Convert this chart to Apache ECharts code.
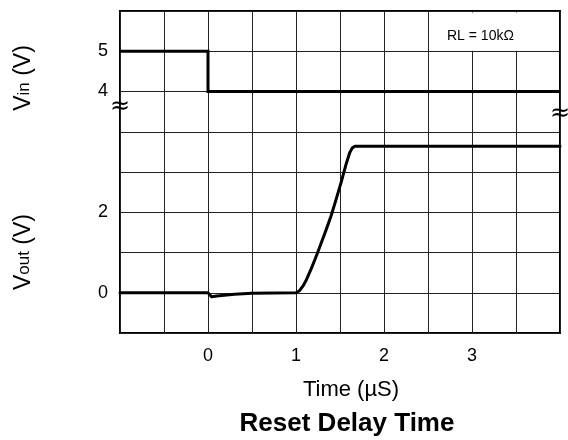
<!DOCTYPE html>
<html><head><meta charset="utf-8">
<script src="https://cdn.jsdelivr.net/npm/echarts@6/dist/echarts.min.js"></script>
<style>html,body{margin:0;padding:0;background:#fff}#c{width:568px;height:440px}</style>
</head><body><div id="c"></div>
<script>
const FONT = '"Liberation Sans", Arial, Helvetica, sans-serif';

// Vin step (time in µs, volts)
const vinTime  = [-1, 0, 0, 4];
const vinVolts = [ 5, 5, 4, 4];

// Vout response (time in µs, volts)
const voutTime  = [-1, 0, 0.02, 0.04, 0.1, 0.3, 0.5, 1.0, 1.04, 1.08, 1.12, 1.17, 1.22, 1.28, 1.34, 1.40, 1.46, 1.52, 1.57, 1.61, 1.64, 1.67, 1.70, 4];
const voutVolts = [ 0, 0, -0.04, -0.1, -0.08, -0.04, -0.01, 0, 0.05, 0.17, 0.33, 0.58, 0.85, 1.20, 1.55, 1.92, 2.35, 2.80, 3.20, 3.48, 3.60, 3.64, 3.64, 3.64];

// Tick labels
const xTickLabels    = [0, 1, 2, 3];
const voutTickLabels = [0, 2];
const vinTickLabels  = [4, 5];
const vinAxisOffset  = 1;   // broken axis: Vin value v is drawn at v + 1

const chart = echarts.init(document.getElementById('c'), null, {renderer: 'canvas'});

const option = {
  animation: false,
  backgroundColor: '#fff',
  grid: {left: 120, right: 8, top: 11, bottom: 107, show: true, borderColor: '#000', borderWidth: 2, outerBoundsMode: 'none'},
  xAxis: {
    type: 'value', min: -1, max: 4, interval: 0.5,
    axisLine: {show: false}, axisTick: {show: false},
    splitLine: {show: true, lineStyle: {color: '#222', width: 1}},
    axisLabel: {
      margin: 14, color: '#000', fontSize: 18, fontFamily: FONT,
      formatter: v => xTickLabels.includes(v) ? String(v) : ''
    }
  },
  yAxis: {
    type: 'value', min: -1, max: 7, interval: 1,
    axisLine: {show: false}, axisTick: {show: false},
    splitLine: {show: true, lineStyle: {color: '#222', width: 1}},
    axisLabel: {
      margin: 12, color: '#000', fontSize: 18, fontFamily: FONT,
      formatter: v => {
        if (voutTickLabels.includes(v)) return String(v);
        if (v > 3 && vinTickLabels.includes(v - vinAxisOffset)) return String(v - vinAxisOffset);
        return '';
      }
    }
  },
  series: [
    {
      name: 'Vin', type: 'line', showSymbol: false, z: 5,
      lineStyle: {color: '#000', width: 3, join: 'miter'},
      data: vinTime.map((t, i) => [t, vinVolts[i] + vinAxisOffset])
    },
    {
      name: 'Vout', type: 'line', showSymbol: false, z: 5,
      lineStyle: {color: '#000', width: 3, join: 'round', cap: 'round'},
      data: voutTime.map((t, i) => [t, voutVolts[i]])
    }
  ]
};
chart.setOption(option);

const p = (x, y) => chart.convertToPixel({gridIndex: 0}, [x, y]);
const a = p(2.5, 7), b = p(4, 6);
const brkL = p(-1, 4.62), brkR = p(4, 4.45);

chart.setOption({
  graphic: [
    {type: 'rect', z: 3, shape: {x: a[0] + 1, y: a[1] + 1.5, width: b[0] - a[0] - 2.5, height: b[1] - a[1] - 2}, style: {fill: '#fff'}},
    {type: 'text', z: 6, x: 447, y: 36, style: {text: 'RL = 10kΩ', font: '14px ' + FONT, fill: '#000', textAlign: 'left', textVerticalAlign: 'middle'}},
    {type: 'text', z: 6, x: brkL[0], y: brkL[1], style: {text: '≈', font: '24px "DejaVu Sans"', fill: '#000', textAlign: 'center', textVerticalAlign: 'middle'}},
    {type: 'text', z: 6, x: brkR[0], y: brkR[1], style: {text: '≈', font: '24px "DejaVu Sans"', fill: '#000', textAlign: 'center', textVerticalAlign: 'middle'}},
    {type: 'text', z: 6, x: 24, y: 78, rotation: Math.PI / 2,
      style: {text: '{b|V}{s|in}{b| (V)}', textAlign: 'center', textVerticalAlign: 'middle', fill: '#000',
        rich: {b: {fontSize: 23, fontFamily: FONT, fill: '#000'}, s: {fontSize: 17, fontFamily: FONT, fill: '#000'}}}},
    {type: 'text', z: 6, x: 24, y: 252, rotation: Math.PI / 2,
      style: {text: '{b|V}{s|out}{b| (V)}', textAlign: 'center', textVerticalAlign: 'middle', fill: '#000',
        rich: {b: {fontSize: 23, fontFamily: FONT, fill: '#000'}, s: {fontSize: 17, fontFamily: FONT, fill: '#000'}}}},
    {type: 'text', z: 6, x: 351, y: 390, style: {text: 'Time (µS)', font: '22px ' + FONT, fill: '#000', textAlign: 'center', textVerticalAlign: 'middle'}},
    {type: 'text', z: 6, x: 347, y: 424, style: {text: 'Reset Delay Time', font: 'bold 26px ' + FONT, fill: '#000', textAlign: 'center', textVerticalAlign: 'middle'}}
  ]
});
</script>
</body></html>
